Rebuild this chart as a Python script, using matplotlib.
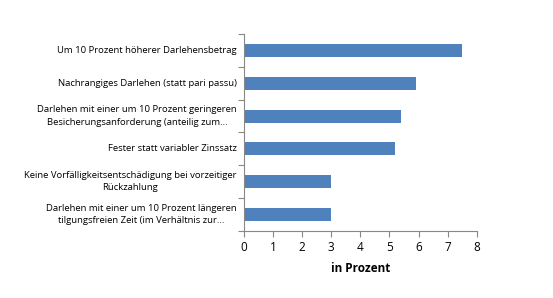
import matplotlib.pyplot as plt
import numpy as np

categories = [
    "Um 10 Prozent höherer Darlehensbetrag",
    "Nachrangiges Darlehen (statt pari passu)",
    "Darlehen mit einer um 10 Prozent geringeren\nBesicherungsanforderung (anteilig zum...",
    "Fester statt variabler Zinssatz",
    "Keine Vorfälligkeitsentschädigung bei vorzeitiger\nRückzahlung",
    "Darlehen mit einer um 10 Prozent längeren\ntilgungsfreien Zeit (im Verhältnis zur...",
]
values = [7.5, 5.9, 5.4, 5.2, 3.0, 3.0]
xticks = [0, 1, 2, 3, 4, 5, 6, 7, 8]

plt.rcParams['font.family'] = ['Open Sans', 'DejaVu Sans']

fig = plt.figure(figsize=(5.53, 2.98), dpi=100)
ax = fig.add_axes([0.4412, 0.2248, 0.4208, 0.6612])

y = np.arange(len(categories))
ax.barh(y, values, height=0.4, color='#4F81BD')
ax.set_ylim(len(categories) - 0.5, -0.5)
ax.set_xlim(0, 8)
ax.set_xticks(xticks)
ax.set_xticklabels([str(t) for t in xticks], fontsize=8.5)

# category boundaries as tick marks, labels on the centers
ax.set_yticks(np.arange(len(categories) + 1) - 0.5)
ax.set_yticklabels([])
ax.tick_params(axis='y', length=4, color='#888888', direction='out')
ax.tick_params(axis='x', length=4, color='#888888', direction='out', pad=3)
for i, c in enumerate(categories):
    ax.text(-0.25, i, c, ha='right', va='center', multialignment='center',
            fontsize=6.8, linespacing=1.45, transform=ax.transData)

for s in ['top', 'right']:
    ax.spines[s].set_visible(False)
for s in ['left', 'bottom']:
    ax.spines[s].set_color('#888888')

ax.set_xlabel('in Prozent', fontsize=8.5, fontweight='bold', labelpad=6)

fig.savefig('out.png', dpi=100)
